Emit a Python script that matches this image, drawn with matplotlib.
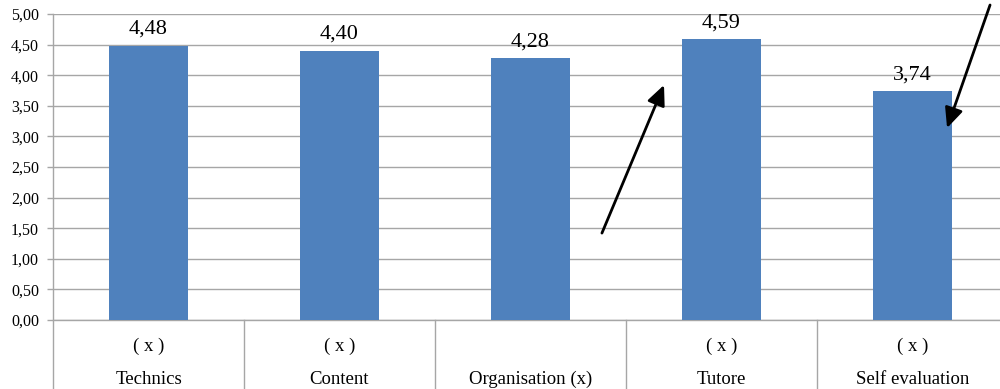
import matplotlib
matplotlib.use("Agg")
import matplotlib.pyplot as plt
from matplotlib.lines import Line2D
from matplotlib.ticker import FuncFormatter, MultipleLocator

# Chart data
categories = ["Technics", "Content", "Organisation (x)", "Tutore", "Self evaluation"]
marks = ["( x )", "( x )", "", "( x )", "( x )"]
scores = [4.48, 4.40, 4.28, 4.59, 3.74]

plt.rcParams["font.family"] = ["Liberation Serif", "DejaVu Serif"]

BAR_COLOR = "#4F81BD"
GRID_COLOR = "#A6A6A6"

fig = plt.figure(figsize=(10, 3.89), dpi=100)
ax = fig.add_axes([0.053, 0.1774, 0.955, 0.7866])

x = list(range(len(categories)))
ax.bar(x, scores, width=0.41, color=BAR_COLOR, zorder=3)

ax.set_xlim(-0.5, len(categories) - 0.5)
ax.set_ylim(0, 5)
ax.yaxis.set_major_locator(MultipleLocator(0.5))
ax.yaxis.set_major_formatter(FuncFormatter(lambda v, _: f"{v:.2f}".replace(".", ",")))
ax.tick_params(axis="y", direction="out", length=4, width=1, color=GRID_COLOR,
               labelsize=11.5, pad=6)
ax.set_xticks([])
ax.grid(axis="y", color=GRID_COLOR, linewidth=1, zorder=0)

for side in ("top", "right"):
    ax.spines[side].set_visible(False)
ax.spines["left"].set_visible(False)
ax.spines["bottom"].set_color(GRID_COLOR)
ax.spines["bottom"].set_linewidth(1)

# category separators running below the axis
trans = ax.get_xaxis_transform()
for i in range(len(categories) + 1):
    top = 1.0 if i == 0 else 0.0
    ax.add_line(Line2D([i - 0.5, i - 0.5], [top, -0.23], transform=trans,
                       color=GRID_COLOR, linewidth=1, clip_on=False))

# two-row category labels
for i, (name, mark) in enumerate(zip(categories, marks)):
    ax.text(i, -0.085, mark, transform=trans, ha="center", va="center", fontsize=13.5)
    ax.text(i, -0.193, name, transform=trans, ha="center", va="center", fontsize=13.5)

# value labels
for i, v in enumerate(scores):
    ax.annotate(f"{v:.2f}".replace(".", ","), (i, v), xytext=(0, 5),
                textcoords="offset points", ha="center", va="bottom", fontsize=16)

# arrows drawn on the chart
arrow_style = dict(arrowstyle="-|>,head_length=0.55,head_width=0.25", color="black",
                   lw=2, mutation_scale=22, shrinkA=0, shrinkB=0)
ax.annotate("", xy=(2.699, 3.84), xytext=(2.374, 1.42), arrowprops=arrow_style,
            annotation_clip=False)
ax.annotate("", xy=(4.181, 3.137), xytext=(4.406, 5.147), arrowprops=arrow_style,
            annotation_clip=False)

fig.savefig("out.png", dpi=100)
plt.close(fig)
